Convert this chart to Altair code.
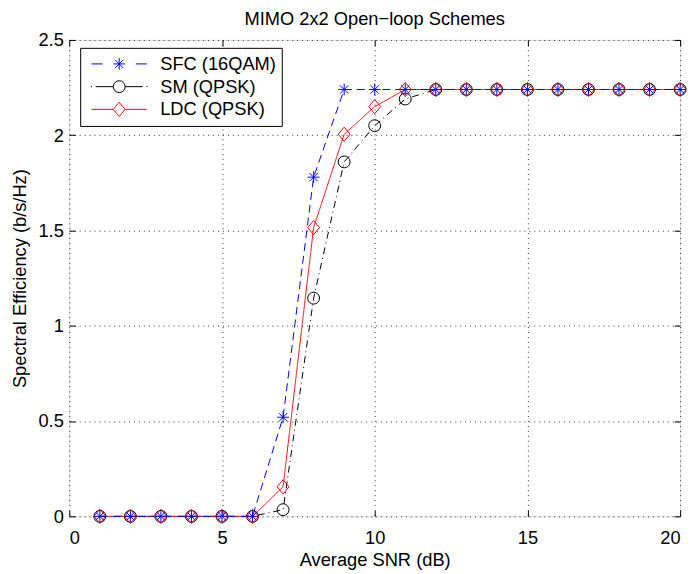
import altair as alt
import pandas as pd

snr = list(range(1, 21))
sfc = [0, 0, 0, 0, 0, 0, 0.52, 1.78, 2.24, 2.24, 2.24, 2.24, 2.24, 2.24, 2.24, 2.24, 2.24, 2.24, 2.24, 2.24]
sm = [0, 0, 0, 0, 0, 0, 0.035, 1.145, 1.86, 2.05, 2.19, 2.24, 2.24, 2.24, 2.24, 2.24, 2.24, 2.24, 2.24, 2.24]
ldc = [0, 0, 0, 0, 0, 0, 0.155, 1.515, 2.005, 2.15, 2.24, 2.24, 2.24, 2.24, 2.24, 2.24, 2.24, 2.24, 2.24, 2.24]

names = ["SFC (16QAM)", "SM (QPSK)", "LDC (QPSK)"]
colors = ["#0000ff", "#000000", "#ff0000"]
dashes = [[8, 5], [7, 4, 1, 4], [1, 0]]
shapes = [
    "M0,-1V1M-1,0H1M-0.7,-0.7L0.7,0.7M-0.7,0.7L0.7,-0.7",
    "circle",
    "M0,-1.2L1,0L0,1.2L-1,0Z",
]
legend_paths = [
    "M-1,0H-0.6M0.6,0H1M0,-0.214V0.214M-0.214,0H0.214M-0.151,-0.151L0.151,0.151M-0.151,0.151L0.151,-0.151",
    "M-1.02,0H-0.98M-0.85,0H-0.214M0.214,0H0.85M0.98,0H1.02M0.214,0A0.214,0.214 0 1,1 -0.214,0A0.214,0.214 0 1,1 0.214,0Z",
    "M-1,0H-0.214M0.214,0H1M0,-0.257L0.214,0L0,0.257L-0.214,0Z",
]
xticks = [0, 5, 10, 15, 20]
yticks = [0, 0.5, 1, 1.5, 2, 2.5]

rows = []
for name, vals in [(names[1], sm), (names[2], ldc), (names[0], sfc)]:
    for x, v in zip(snr, vals):
        rows.append({"snr": x, "se": v, "series": name})
df = pd.DataFrame(rows)

FONT = "Liberation Sans"
FS = 18.5
W, H = 618, 482

legend = alt.Legend(
    orient="none", legendX=11, legendY=8, title=None,
    strokeColor="black", fillColor="white", padding=5,
    symbolSize=3136, clipHeight=22.5, rowPadding=0,
    labelOffset=13, symbolOffset=6,
    labelFontSize=FS, labelFont=FONT, labelColor="black",
    symbolStrokeWidth=1, symbolOpacity=1, symbolFillColor="transparent",
)

xscale = alt.Scale(domain=[0, 20], nice=False, zero=False)
yscale = alt.Scale(domain=[0, 2.5], nice=False)

common = dict(labelFontSize=FS, titleFontSize=FS, labelFont=FONT, titleFont=FONT,
              labelColor="black", titleColor="black", titleFontWeight="normal")

x_bottom = alt.Axis(values=xticks, title="Average SNR (dB)", grid=True,
                    gridDash=[1, 4], gridColor="#333", gridOpacity=1, domain=False,
                    ticks=False, labelPadding=12, titlePadding=4, **common)
y_left = alt.Axis(values=yticks, title="Spectral Efficiency (b/s/Hz)", grid=True, format=".1~f",
                  gridDash=[1, 4], gridColor="#333", gridOpacity=1, domain=False,
                  ticks=False, labelPadding=6, titlePadding=9, **common)

def tick_axis(orient, values, offset):
    return alt.Axis(orient=orient, values=values, title=None, labels=False, grid=False,
                    domain=False, ticks=True, tickSize=6, tickColor="black", tickWidth=1,
                    offset=offset)

base = alt.Chart(df)

# grid/axes carrier (no marks)
axis_layer = base.mark_point(opacity=0).encode(
    x=alt.X("snr:Q", scale=xscale, axis=x_bottom),
    y=alt.Y("se:Q", scale=yscale, axis=y_left),
).transform_filter("false")

series_layers = []
for idx in [1, 2, 0]:
    sub = base.transform_filter(alt.datum.series == names[idx])
    series_layers.append(
        sub.mark_line(strokeWidth=1, color=colors[idx], strokeDash=dashes[idx]).encode(
            x=alt.X("snr:Q", scale=xscale, axis=None),
            y=alt.Y("se:Q", scale=yscale, axis=None),
        )
    )
for idx in [1, 2, 0]:
    sub = base.transform_filter(alt.datum.series == names[idx])
    series_layers.append(
        sub.mark_point(filled=False, opacity=1, strokeWidth=1, size=144,
                       shape=shapes[idx], color=colors[idx]).encode(
            x=alt.X("snr:Q", scale=xscale, axis=None),
            y=alt.Y("se:Q", scale=yscale, axis=None),
        )
    )

tick_layer = base.mark_point(opacity=0).encode(
    x=alt.X("snr:Q", scale=xscale, axis=tick_axis("top", xticks, -H)),
    y=alt.Y("se:Q", scale=yscale, axis=tick_axis("right", yticks, -W)),
).transform_filter("false")

legend_layer = base.mark_point(filled=False, opacity=1, strokeWidth=1, size=3136).encode(
    x=alt.X("snr:Q", scale=xscale, axis=tick_axis("bottom", xticks, -H)),
    y=alt.Y("se:Q", scale=yscale, axis=tick_axis("left", yticks, -W)),
    color=alt.Color("series:N", scale=alt.Scale(domain=names, range=colors), legend=legend),
    shape=alt.Shape("series:N", scale=alt.Scale(domain=names, range=legend_paths), legend=legend),
).transform_filter("false")

chart = alt.layer(axis_layer, *series_layers, tick_layer, legend_layer).resolve_axis(
    x="independent", y="independent"
).properties(
    width=W, height=H,
    title=alt.TitleParams("MIMO 2x2 Open\u2212loop Schemes", fontSize=18.5, font=FONT,
                          fontWeight="normal", color="black", offset=3, anchor="middle"),
    autosize=alt.AutoSizeParams(type="none"),
    padding={"left": 62, "top": 29, "right": 10, "bottom": 54},
).configure_view(stroke="black", strokeWidth=1).configure(background="white")

chart.save("out.html", embed_options={"renderer": "svg", "actions": False})
